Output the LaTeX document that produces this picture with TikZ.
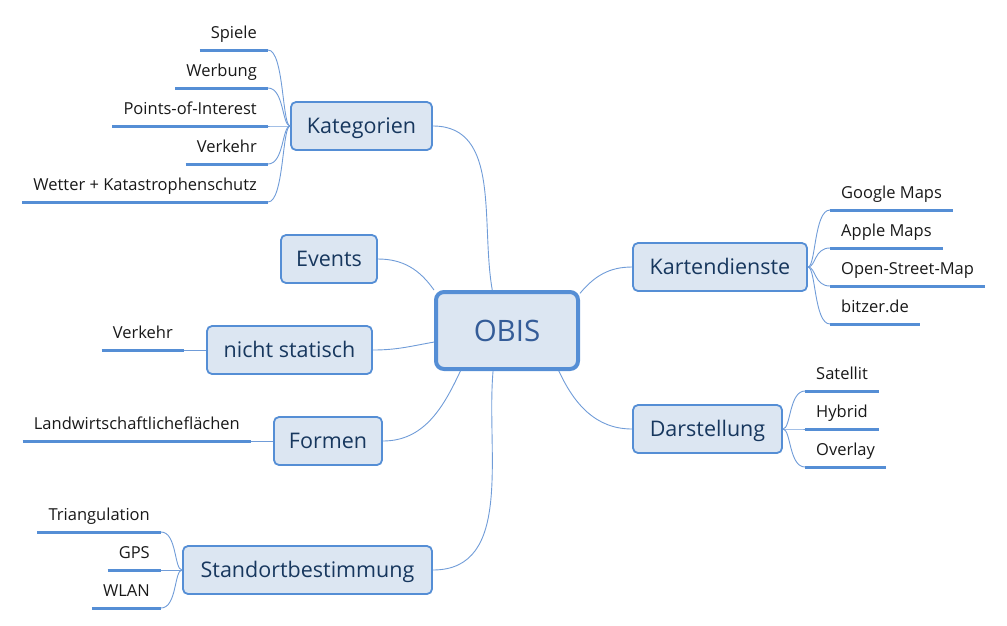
\documentclass[tikz,border=0pt]{standalone}
\usepackage{fontspec}
\setmainfont{Open Sans}
\usetikzlibrary{positioning}
\definecolor{boxblue}{RGB}{85,142,213}
\definecolor{boxfill}{RGB}{220,230,242}
\definecolor{linkblue}{RGB}{112,156,216}
\definecolor{topictext}{RGB}{23,55,94}
\definecolor{obistext}{RGB}{52,92,152}
\tikzset{
  centre/.style={draw=boxblue, fill=boxfill, line width=4pt, rounded corners=8pt,
    minimum width=142pt, minimum height=77pt, text=obistext, font=\fontsize{29.5}{34}\selectfont},
  topic/.style={draw=boxblue, fill=boxfill, line width=1.8pt, rounded corners=5pt,
    minimum height=48pt, inner xsep=4pt, text height=18pt, text depth=4pt,
    text=topictext, font=\fontsize{21.5}{25}\selectfont},
  leaf/.style={inner xsep=11pt, inner ysep=1pt, text height=13pt, text depth=10pt,
    text=black!90, font=\fontsize{16.5}{19}\selectfont,
    append after command={(\tikzlastnode.south west) edge[draw=boxblue, line width=3pt] (\tikzlastnode.south east)}},
  link/.style={draw=linkblue, line width=0.9pt},
  linkL/.style={to path={.. controls +(-8,0) and +(16,0) .. (\tikztotarget)}},
  linkR/.style={to path={.. controls +(8,0) and +(-16,0) .. (\tikztotarget)}}
}
\begin{document}
\begin{tikzpicture}[x=1pt,y=1pt]
\useasboundingbox (0,0) rectangle (1007,-625);

% centre and main topics
\node[centre] (obis) at (507,-330.5) {OBIS};
\node[topic, minimum width=141pt] (kat) at (361.5,-126) {Kategorien};
\node[topic, minimum width=96pt] (events) at (329,-259) {Events};
\node[topic, minimum width=165pt] (nstat) at (289.5,-350) {nicht statisch};
\node[topic, minimum width=108pt] (formen) at (328,-441) {Formen};
\node[topic, minimum width=249pt] (stand) at (307.5,-570) {Standortbestimmung};
\node[topic, minimum width=174pt] (karten) at (720,-267) {Kartendienste};
\node[topic, minimum width=149pt] (darst) at (707.5,-429) {Darstellung};

% leaves
\node[leaf, anchor=south east] (spiele) at (268,-50) {Spiele};
\node[leaf, anchor=south east] (werbung) at (268,-88) {Werbung};
\node[leaf, anchor=south east] (poi) at (268,-126) {Points-of-Interest};
\node[leaf, anchor=south east] (kverk) at (268,-164) {Verkehr};
\node[leaf, anchor=south east] (wetter) at (268,-202) {Wetter + Katastrophenschutz};

\node[leaf, anchor=south east] (nverk) at (184,-350) {Verkehr};
\node[leaf, anchor=south east] (land) at (251,-441) {Landwirtschaftlicheflächen};

\node[leaf, anchor=south east] (tri) at (161,-532) {Triangulation};
\node[leaf, anchor=south east] (gps) at (161,-570) {GPS};
\node[leaf, anchor=south east] (wlan) at (161,-608) {WLAN};

\node[leaf, anchor=south west] (google) at (830,-210) {Google Maps};
\node[leaf, anchor=south west] (apple) at (830,-248) {Apple Maps};
\node[leaf, anchor=south west] (osm) at (830,-286) {Open-Street-Map};
\node[leaf, anchor=south west] (bitzer) at (830,-324) {bitzer.de};

\node[leaf, anchor=south west] (sat) at (805,-391) {Satellit};
\node[leaf, anchor=south west] (hybrid) at (805,-429) {Hybrid};
\node[leaf, anchor=south west] (overlay) at (805,-467) {Overlay};

% main branches
\draw[link] (kat.east) to[out=0,in=100] (obis.110);
\draw[link] (events.east) to[out=0,in=125] (obis.151);
\draw[link] (nstat.east) to[out=0,in=190] (obis.189);
\draw[link] (formen.east) to[out=0,in=245] (obis.221);
\draw[link] (stand.east) to[out=0,in=265] (obis.251);
\draw[link] (karten.west) to[out=180,in=50] (obis.27);
\draw[link] (darst.west) to[out=180,in=295] (obis.322);

% sub branches
\foreach \l in {spiele,werbung,poi,kverk,wetter}
  \draw[link] (kat.west) to[linkL] (\l.south east);
\foreach \l in {tri,gps,wlan}
  \draw[link] (stand.west) to[linkL] (\l.south east);
\foreach \l in {google,apple,osm,bitzer}
  \draw[link] (karten.east) to[linkR] (\l.south west);
\foreach \l in {sat,hybrid,overlay}
  \draw[link] (darst.east) to[linkR] (\l.south west);
\draw[link] (nstat.west) -- (nverk.south east);
\draw[link] (formen.west) -- (land.south east);
\end{tikzpicture}
\end{document}
